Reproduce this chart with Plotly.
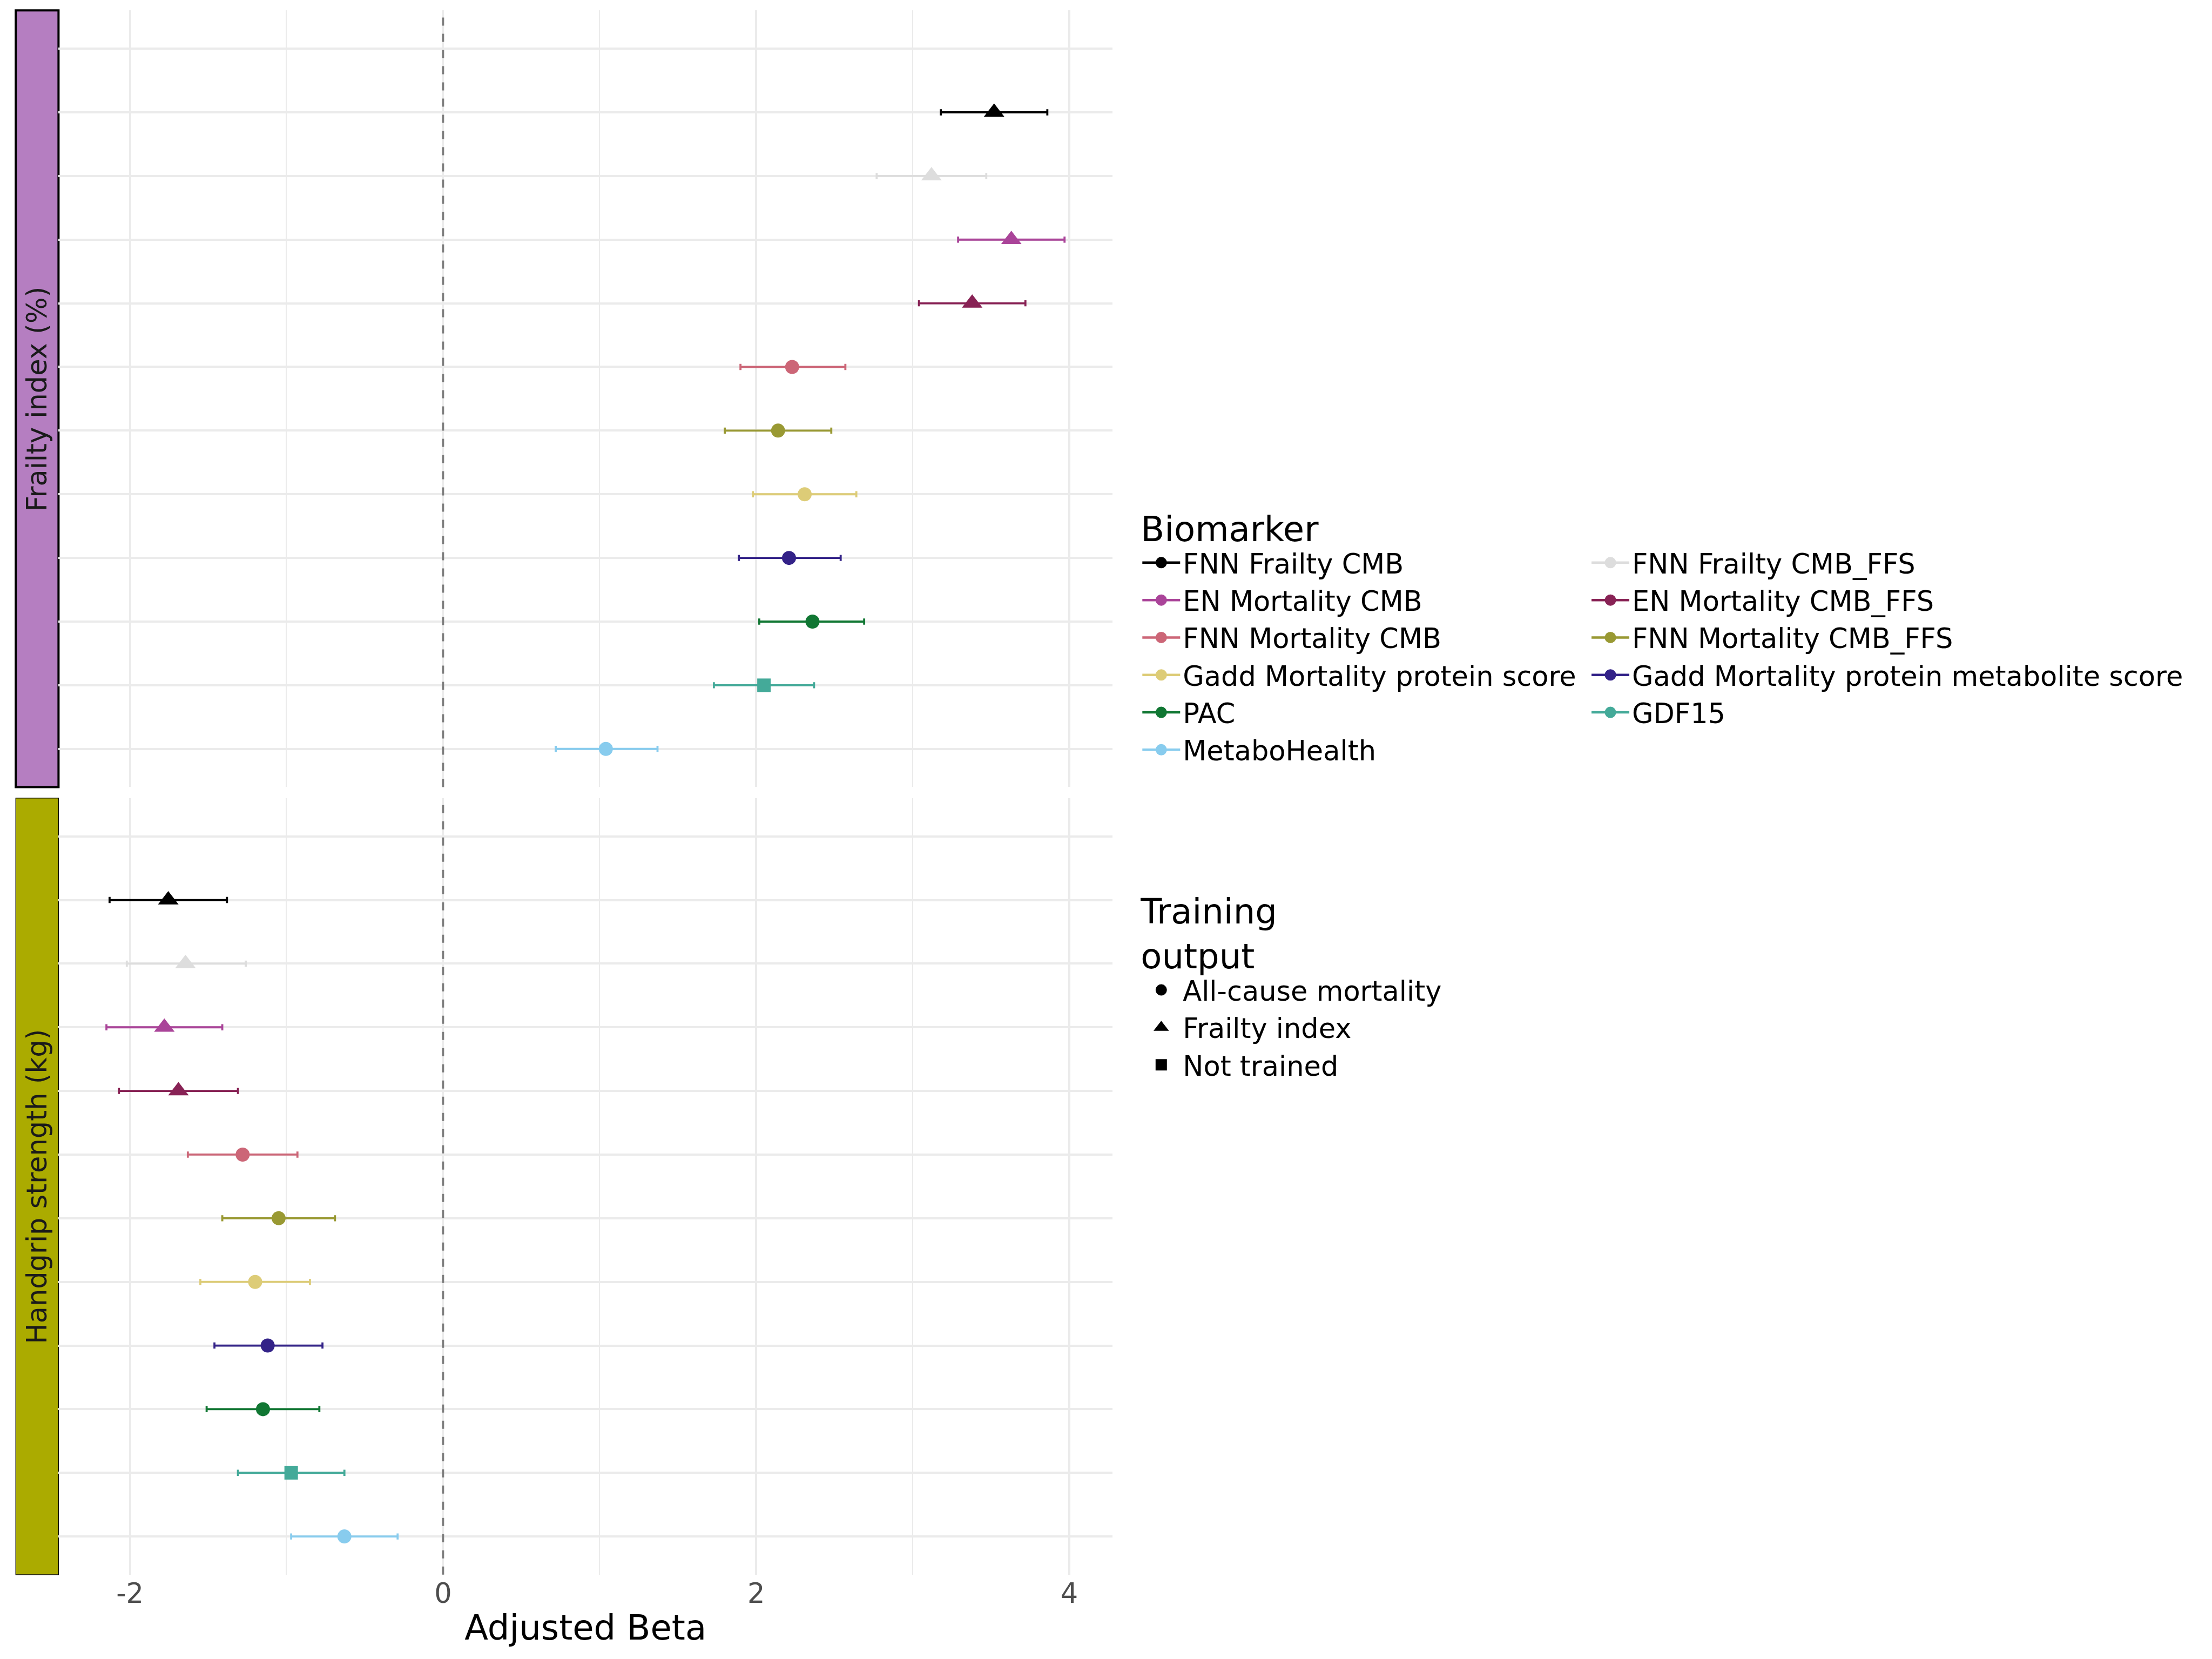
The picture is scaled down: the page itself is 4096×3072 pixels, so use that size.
import plotly.graph_objects as go

# ---------------- data ----------------
biomarkers = [
    "FNN Frailty CMB", "FNN Frailty CMB_FFS", "EN Mortality CMB", "EN Mortality CMB_FFS",
    "FNN Mortality CMB", "FNN Mortality CMB_FFS", "Gadd Mortality protein score",
    "Gadd Mortality protein metabolite score", "PAC", "GDF15", "MetaboHealth",
]
colors = [
    "#000000", "#DDDDDD", "#AA4499", "#882255", "#CC6677", "#999933",
    "#DDCC77", "#332288", "#117733", "#44AA99", "#88CCEE",
]
training = [
    "Frailty index", "Frailty index", "Frailty index", "Frailty index",
    "All-cause mortality", "All-cause mortality", "All-cause mortality",
    "All-cause mortality", "All-cause mortality", "Not trained", "All-cause mortality",
]
training_levels = ["All-cause mortality", "Frailty index", "Not trained"]
# legend columns (as in the reference legend layout)
legend_col1 = ["FNN Frailty CMB", "EN Mortality CMB", "FNN Mortality CMB",
               "Gadd Mortality protein score", "PAC", "MetaboHealth"]
legend_col2 = ["FNN Frailty CMB_FFS", "EN Mortality CMB_FFS", "FNN Mortality CMB_FFS",
               "Gadd Mortality protein metabolite score", "GDF15"]
empty_row = " "
outcomes = ["Frailty index (%)", "Handgrip strength (kg)"]

frailty_beta = [3.52, 3.12, 3.63, 3.38, 2.23, 2.14, 2.31, 2.21, 2.36, 2.05, 1.04]
frailty_lo = [3.18, 2.77, 3.29, 3.04, 1.90, 1.80, 1.98, 1.89, 2.02, 1.73, 0.72]
frailty_hi = [3.86, 3.47, 3.97, 3.72, 2.57, 2.48, 2.64, 2.54, 2.69, 2.37, 1.37]

grip_beta = [-1.755, -1.645, -1.78, -1.69, -1.28, -1.05, -1.20, -1.12, -1.15, -0.97, -0.63]
grip_lo = [-2.13, -2.02, -2.15, -2.07, -1.63, -1.41, -1.55, -1.46, -1.51, -1.31, -0.97]
grip_hi = [-1.38, -1.26, -1.41, -1.31, -0.93, -0.69, -0.85, -0.77, -0.79, -0.63, -0.29]

x_tickvals = [-2, 0, 2, 4]
x_ticktext = ["-2", "0", "2", "4"]
strip_colors = ["#B57EC1", "#ABAB00"]

# ---------------- geometry / styles ----------------
S = 4096 / 4800
WT, HT = 4096, 3072
R_MARGIN = 1996
PW = WT - R_MARGIN
FONT = "DejaVu Sans"


def fx(full):
    return full * S / PW


def fy(full):
    return 1 - full * S / HT


symbol_of = {"All-cause mortality": "circle", "Frailty index": "triangle-up", "Not trained": "square"}
size_of = {"All-cause mortality": 26, "Frailty index": 33, "Not trained": 25}

panel_data = [
    (frailty_beta, frailty_lo, frailty_hi, "x2", "y2"),
    (grip_beta, grip_lo, grip_hi, "x", "y"),
]

fig = go.Figure()

for beta, lo, hi, xa, ya in panel_data:
    for i, b in enumerate(biomarkers):
        fig.add_trace(go.Scatter(
            x=[beta[i]], y=[b], mode="markers",
            marker=dict(symbol=symbol_of[training[i]], size=size_of[training[i]],
                        color=colors[i], line=dict(width=0)),
            error_x=dict(type="data", symmetric=False,
                         array=[hi[i] - beta[i]], arrayminus=[beta[i] - lo[i]],
                         color=colors[i], thickness=3.8, width=5.7),
            xaxis=xa, yaxis=ya, showlegend=False, hoverinfo="skip",
        ))

# legend entries: Biomarker (two columns -> two legends)
for names, leg in [(legend_col1, "legend"), (legend_col2, "legend3")]:
    for b in names:
        c = colors[biomarkers.index(b)]
        fig.add_trace(go.Scatter(
            x=[None], y=[None], mode="lines+markers", name=b,
            line=dict(color=c, width=4.5),
            marker=dict(symbol="circle", size=16, color=c, line=dict(color=c, width=5)),
            legend=leg, showlegend=True, hoverinfo="skip",
        ))

# legend entries: Training output
for t in training_levels:
    fig.add_trace(go.Scatter(
        x=[None], y=[None], mode="markers", name=t,
        marker=dict(symbol=symbol_of[t], size=16, color="black", line=dict(color="black", width=5)),
        legend="legend2", showlegend=True, hoverinfo="skip",
    ))

all_lo = frailty_lo + grip_lo
all_hi = frailty_hi + grip_hi
lo_, hi_ = min(all_lo), max(all_hi)
pad = 0.05 * (hi_ - lo_)
xrange = [lo_ - pad, hi_ + pad]

cat_array = list(reversed([empty_row] + biomarkers))
n_cat = len(cat_array)

x_dom = [fx(127), fx(2414)]
top_dom = [fy(1708), fy(22.7)]
bot_dom = [fy(3417), fy(1732)]

grid = "#EBEBEB"
common_x = dict(
    range=xrange, showgrid=True, gridcolor=grid, gridwidth=3.7, zeroline=False,
    showline=False, ticks="", tickmode="array", tickvals=x_tickvals, ticktext=x_ticktext,
    minor=dict(tickmode="linear", tick0=0, dtick=1, showgrid=True, gridcolor=grid, gridwidth=1.8, ticks=""),
    domain=x_dom,
)
common_y = dict(
    type="category", categoryorder="array", categoryarray=cat_array,
    range=[-0.6, n_cat - 1 + 0.6], showgrid=True, gridcolor=grid, gridwidth=3.7,
    zeroline=False, showline=False, ticks="", showticklabels=False,
)

LEG_FONT = 51
TITLE_FONT = 64
col1_top_px = 919                      # target px
col2_top_px = col1_top_px + 1.3 * TITLE_FONT
leg2_top_px = 1627

legend_common = dict(
    xanchor="left", yanchor="top", orientation="v",
    font=dict(size=LEG_FONT, color="black", family=FONT), itemwidth=70,
    bgcolor="rgba(0,0,0,0)", traceorder="normal",
)

fig.update_layout(
    width=WT, height=HT,
    margin=dict(l=0, r=R_MARGIN, t=0, b=0, autoexpand=False),
    paper_bgcolor="white", plot_bgcolor="white",
    font=dict(family=FONT, color="black"),
    xaxis=dict(**common_x, anchor="y",
               tickfont=dict(size=51, color="#4D4D4D", family=FONT),
               title=dict(text="Adjusted Beta", font=dict(size=TITLE_FONT, color="black", family=FONT), standoff=12)),
    xaxis2=dict(**common_x, anchor="y2", matches="x", showticklabels=False),
    yaxis=dict(**common_y, domain=bot_dom, anchor="x"),
    yaxis2=dict(**common_y, domain=top_dom, anchor="x2"),
    legend=dict(
        **legend_common, x=fx(2473), y=1 - col1_top_px / HT,
        title=dict(text="Biomarker", side="top", font=dict(size=TITLE_FONT, color="black", family=FONT)),
    ),
    legend3=dict(
        **legend_common, x=fx(3447.7), y=1 - col2_top_px / HT,
    ),
    legend2=dict(
        **legend_common, x=fx(2473), y=1 - leg2_top_px / HT,
        title=dict(text="Training<br>output", side="top", font=dict(size=TITLE_FONT, color="black", family=FONT)),
    ),
)

# dashed reference line at 0 in each panel
for xa, ya in [("x", "y"), ("x2", "y2")]:
    fig.add_shape(type="line", xref=xa, yref=f"{ya} domain", x0=0, x1=0, y0=0, y1=1,
                  line=dict(color="#7F7F7F", width=4, dash="15px,15px"), layer="above")

# facet strips
strip_specs = [
    (outcomes[0], top_dom, strip_colors[0], 4.0),
    (outcomes[1], bot_dom, strip_colors[1], 1.2),
]
for label, dom, col, bw in strip_specs:
    fig.add_shape(type="rect", xref="paper", yref="paper",
                  x0=fx(34.2), x1=fx(127), y0=dom[0], y1=dom[1],
                  fillcolor=col, line=dict(color="black", width=bw), layer="below")
    fig.add_annotation(text=label, xref="paper", yref="paper",
                       x=(fx(34.2) + fx(127)) / 2, y=(dom[0] + dom[1]) / 2,
                       textangle=-90, showarrow=False, xanchor="center", yanchor="middle",
                       font=dict(size=51, color="#1A1A1A", family=FONT))

fig.write_html("out.html")
